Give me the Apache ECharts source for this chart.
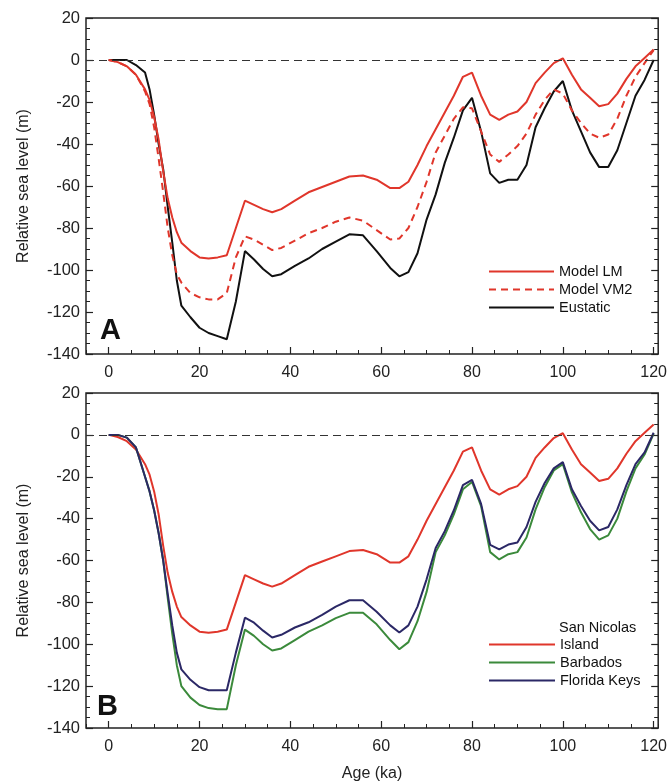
<!DOCTYPE html>
<html>
<head>
<meta charset="utf-8">
<script src="https://cdn.jsdelivr.net/npm/echarts@6/dist/echarts.min.js"></script>
<style>
html,body{margin:0;padding:0;background:#fff;}
#chart{width:670px;height:783px;}
</style>
</head>
<body>
<div id="chart"></div>
<script>
// age grid (ka) shared by all curves
const ages = [0,2,4,6,8,9,10,11,12,13,14,15,16,18,20,22,24,26,28,30,32,34,36,38,41,44,47,50,53,56,59,62,64,66,68,70,72,74,76,78,80,82,84,86,88,90,92,94,96,98,100,102,104,106,108,110,112,114,116,118,120];

// panel A
const modelLM = [0,-1,-3,-7,-14,-19,-27,-38,-53,-66,-75,-82,-87,-91,-94,-94.5,-94,-93,-80,-67,-69,-71,-72.5,-71,-67,-63,-60.5,-58,-55.5,-55,-57,-61,-61,-58,-50,-41,-33,-25,-17,-8,-6,-17,-26,-28.5,-26,-24.5,-20,-11,-6,-1.5,0.8,-7,-14,-18,-22,-21,-16,-9,-3,1,5];
const modelVM2 = [0,-1,-3,-7,-15,-21,-32,-47,-63,-80,-93,-102,-106,-111,-113,-114,-114,-111,-94,-84,-85.5,-88,-90.5,-89.5,-86,-82.5,-80,-77,-75,-76.5,-81,-85.5,-85,-80,-70,-58,-44,-36,-28,-22.5,-23,-34,-45,-48.5,-45,-41,-35,-26,-19,-14,-16,-24,-30,-35,-37,-35.5,-28,-17,-8,-1.5,4.7];
const eustatic = [0,0,0,-2.4,-6,-14,-26,-40,-52,-70,-87,-105,-117,-122.5,-127.5,-130,-131.5,-133,-115,-91,-95,-99.5,-103,-102,-98,-94.5,-90,-86.5,-83,-83.5,-91,-99,-103,-101,-92,-76,-64,-49,-37,-24,-18,-34,-54,-58.5,-57,-57,-50,-32,-23,-15,-10,-24,-34,-44,-51,-51,-43,-30,-17,-9.5,0];

// panel B
const sanNicolas = modelLM;
const barbados = [0,0,-1.3,-6,-20,-27,-36,-47,-60,-78,-95,-110,-120,-125.5,-129,-130.5,-131,-131,-110,-93,-96,-100,-103,-102,-98,-94,-91,-87.5,-85,-85,-90.5,-98,-102.4,-99,-89,-75,-56,-48,-38,-26,-22.5,-34,-56,-59.5,-57,-56,-49,-35.6,-25,-17,-14,-27.5,-37,-45,-50,-48,-40,-27,-16,-9.4,0.6];
const floridaKeys = [0,0,-1.3,-6,-20,-27,-36,-47,-60,-76,-91,-104,-112,-117,-120.5,-122,-122,-122,-104,-87.3,-89.7,-93.5,-96.8,-95.5,-92,-89.5,-86,-82,-79,-79,-84.5,-91,-94.4,-91,-82,-69,-54,-46,-36,-24,-21.5,-33,-52.5,-54.7,-52.4,-51.4,-44,-32,-23,-16,-13,-26,-34,-41,-45.6,-44,-35.6,-24,-14,-8.4,1];

const xTicks = [0,20,40,60,80,100,120];

const font = 'Liberation Sans, Arial, Helvetica, sans-serif';
const red = '#e0362b', green = '#3b8a3b', navy = '#2b2866', black = '#111';
const axisColor = '#222';

function pairs(vals){ return ages.map((a,i) => [a, vals[i]]); }

function xAxes(gridIndex, withName){
  return [{
    type:'value', gridIndex, position:'bottom', min:-5, max:121,
    axisLine:{show:false, onZero:false}, splitLine:{show:false},
    axisTick:{inside:true, length:7, customValues:xTicks, lineStyle:{color:axisColor, width:1.2}},
    axisLabel:{customValues:xTicks, fontSize:16, color:'#222', margin:11, fontFamily:font},
    name: withName ? 'Age (ka)' : '', nameLocation:'middle', nameGap:38,
    nameTextStyle:{fontSize:16, color:'#222', fontFamily:font}
  },{
    type:'value', gridIndex, position:'bottom', min:-5, max:121, interval:5,
    axisLine:{show:false, onZero:false}, splitLine:{show:false}, axisLabel:{show:false},
    axisTick:{inside:true, length:4, lineStyle:{color:axisColor, width:1}}
  }];
}

function yAxes(gridIndex){
  const base = {
    type:'value', gridIndex, min:-140, max:20, interval:20,
    splitLine:{show:false}, axisLine:{show:false, onZero:false},
    axisTick:{inside:true, length:7, lineStyle:{color:axisColor, width:1.2}},
    minorTick:{show:true, splitNumber:4, length:4, lineStyle:{color:axisColor, width:1}}
  };
  return [
    Object.assign({}, base, {position:'left',
      axisLabel:{fontSize:16.5, color:'#222', margin:6, fontFamily:font},
      name:'Relative sea level (m)', nameLocation:'middle', nameGap:54,
      nameTextStyle:{fontSize:16, color:'#222', fontFamily:font}}),
    Object.assign({}, base, {position:'right', axisLabel:{show:false}})
  ];
}

const zeroLine = {
  silent:true, symbol:'none', label:{show:false},
  lineStyle:{type:[8,5], color:'#333', width:1},
  data:[{yAxis:0}]
};

function line(name, vals, color, xi, yi, extra){
  return Object.assign({
    name, type:'line', data:pairs(vals), xAxisIndex:xi, yAxisIndex:yi,
    symbol:'none', smooth:false, animation:false,
    lineStyle:{color, width:2}, itemStyle:{color}
  }, extra || {});
}

const legendBase = {
  orient:'vertical', left:488, padding:0, itemHeight:14, itemGap:3,
  itemStyle:{opacity:0},
  textStyle:{fontSize:14.5, color:'#111', fontFamily:font}, selectedMode:false
};

const chart = echarts.init(document.getElementById('chart'));
chart.setOption({
  animation:false,
  textStyle:{fontFamily:font},
  grid:[
    {left:86, top:18, right:10, height:336, show:true, borderColor:axisColor, borderWidth:1.5},
    {left:86, top:393, right:10, height:335, show:true, borderColor:axisColor, borderWidth:1.5}
  ],
  xAxis:[...xAxes(0,false), ...xAxes(1,true)],
  yAxis:[...yAxes(0), ...yAxes(1)],
  legend:[
    Object.assign({}, legendBase, {
      data:['Model LM','Model VM2','Eustatic'], top:264, itemWidth:65
    }),
    Object.assign({}, legendBase, {
      data:['San Nicolas Island','Barbados','Florida Keys'], top:637, itemWidth:66,
      formatter: n => n === 'San Nicolas Island' ? 'Island' : n
    })
  ],
  graphic:[
    {type:'text', left:100, top:316, style:{text:'A', font:'bold 29px ' + font, fill:'#111'}},
    {type:'text', left:97, top:692, style:{text:'B', font:'bold 29px ' + font, fill:'#111'}},
    {type:'text', left:559, top:620, style:{text:'San Nicolas', font:'14.5px ' + font, fill:'#111'}}
  ],
  series:[
    line('Eustatic', eustatic, black, 0, 0, {markLine:zeroLine}),
    line('Model VM2', modelVM2, red, 0, 0, {lineStyle:{color:red, width:2, type:[7,5]}}),
    line('Model LM', modelLM, red, 0, 0),
    line('San Nicolas Island', sanNicolas, red, 2, 2, {markLine:zeroLine}),
    line('Barbados', barbados, green, 2, 2),
    line('Florida Keys', floridaKeys, navy, 2, 2)
  ]
});
</script>
</body>
</html>
